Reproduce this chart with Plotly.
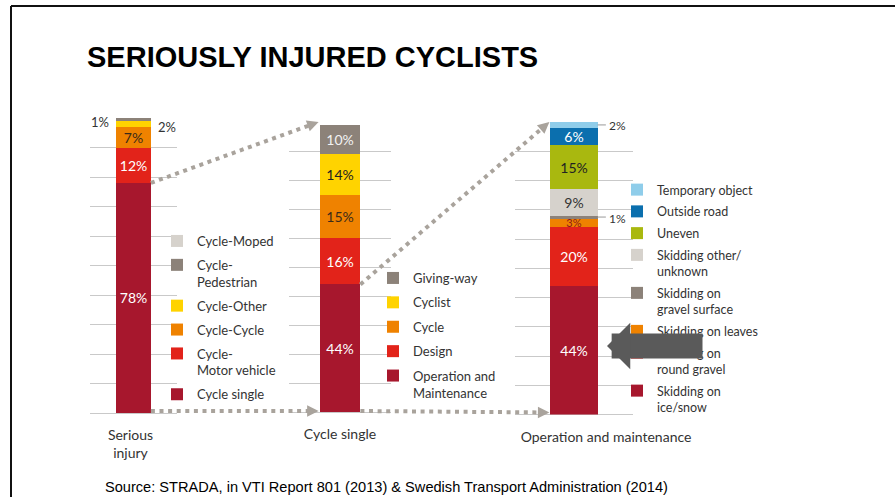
import plotly.graph_objects as go
import math

W, H = 895, 497

# ---------------- data ----------------
cat1 = ["Serious<br>injury"]
names1 = ["Cycle single", "Cycle-<br>Motor vehicle", "Cycle-Cycle", "Cycle-Other",
          "Cycle-<br>Pedestrian", "Cycle-Moped"]
vals1 = [78, 12, 7, 2, 1, 1]

cat2 = ["Cycle single"]
names2 = ["Operation and<br>Maintenance", "Design", "Cycle", "Cyclist", "Giving-way"]
vals2 = [44, 16, 15, 14, 10]

cat3 = ["Operation and maintenance"]
names3 = ["Skidding on<br>ice/snow", "Skidding on<br>round gravel", "Skidding on leaves",
          "Skidding on<br>gravel surface", "Skidding other/<br>unknown", "Uneven",
          "Outside road", "Temporary object"]
vals3 = [44, 20, 3, 1, 9, 15, 6, 2]

# ---------------- styles ----------------
DRED, RED, ORG, YEL = "#A7172D", "#E2231A", "#EF8200", "#FFD300"
DGRY, LGRY, OLIVE, BLUE, LBLUE = "#8C8279", "#D6D2CC", "#A9B80F", "#0B6FAE", "#8FCDEA"
cols1 = [DRED, RED, ORG, YEL, DGRY, LGRY]
cols2 = [DRED, RED, ORG, YEL, DGRY]
cols3 = [DRED, RED, ORG, DGRY, LGRY, OLIVE, BLUE, LBLUE]
tc1 = ["white", "white", "#3b2a1a", "#333", "white", "#333"]
tc2 = ["white", "white", "#3b2a1a", "#222", "#f2f2f2"]
tc3 = ["white", "white", "#8B1A1A", "white", "#333", "#222", "white", "#333"]

GRID = "#C9C9C9"
DOT = "#A9A39C"
TXT = "#333333"
FONT = "Lato"

XDOM = [(90, 177), (289, 391), (515, 633)]
YDOM = [(413, 118), (412, 122), (414.5, 122)]
BARW = 0.4


def xdom(i):
    return [XDOM[i][0] / W, XDOM[i][1] / W]


def ydom(i):
    return [1 - YDOM[i][0] / H, 1 - YDOM[i][1] / H]


def xpix(i, xv):
    a, b = XDOM[i]
    return a + (xv + 0.5) * (b - a)


def ypix(i, yv):
    b, t = YDOM[i]
    return b - yv / 100 * (b - t)


def pp(px, py):
    return px / W, 1 - py / H


fig = go.Figure()
groups = [(cat1, names1, vals1, cols1, tc1, "legend"),
          (cat2, names2, vals2, cols2, tc2, "legend2"),
          (cat3, names3, vals3, cols3, tc3, "legend3")]
for gi, (cat, names, vals, cols, tcs, leg) in enumerate(groups):
    xa = "x" if gi == 0 else f"x{gi + 1}"
    ya = "y" if gi == 0 else f"y{gi + 1}"
    n_items = len(names)
    for k, (n, v, c, tc) in enumerate(zip(names, vals, cols, tcs)):
        fig.add_trace(go.Bar(
            x=cat, y=[v], name=n, width=BARW,
            marker=dict(color=c, line=dict(width=0)),
            text=[f"{v}%" if v >= 3 else ""], textposition="inside",
            insidetextanchor="middle", textangle=0, constraintext="none",
            textfont=dict(family=FONT, size=14 if v > 3 else 11, color=tc),
            xaxis=xa, yaxis=ya, legend=leg, legendgroup=f"{leg}-{k}",
            legendrank=100 + n_items - k,
            cliponaxis=False, hoverinfo="skip"))

layout = dict(
    width=W, height=H, autosize=False,
    margin=dict(l=0, r=0, t=0, b=0, pad=0, autoexpand=False),
    paper_bgcolor="white", plot_bgcolor="white",
    barmode="stack", showlegend=True,
    font=dict(family=FONT, color=TXT),
)
shifts = [-3, 0, 32]
for i in range(3):
    sx = "" if i == 0 else str(i + 1)
    layout[f"xaxis{sx}"] = dict(
        domain=xdom(i), anchor=f"y{sx}", type="category", range=[-0.5, 0.5],
        showgrid=False, zeroline=False, showline=False, ticks="", automargin=False,
        tickfont=dict(family=FONT, size=14, color=TXT),
        ticklabelshift=shifts[i], ticklabelstandoff=12)
    layout[f"yaxis{sx}"] = dict(
        domain=ydom(i), anchor=f"x{sx}", range=[0, 100], dtick=10, tick0=0,
        showgrid=True, gridcolor=GRID, gridwidth=1, automargin=False,
        zeroline=True, zerolinecolor=GRID, zerolinewidth=1,
        showticklabels=False, ticks="")

leg_common = dict(xanchor="left", yanchor="top", bgcolor="rgba(0,0,0,0)",
                  traceorder="grouped", valign="top", itemclick=False,
                  itemdoubleclick=False)
layout["legend"] = dict(x=157 / W, y=1 - 226 / H, tracegroupgap=4,
                        font=dict(family=FONT, size=13, color=TXT), **leg_common)
layout["legend2"] = dict(x=373 / W, y=1 - 263 / H, tracegroupgap=4.5,
                         font=dict(family=FONT, size=13, color=TXT), **leg_common)
layout["legend3"] = dict(x=617 / W, y=1 - 175 / H, tracegroupgap=2.5,
                         font=dict(family=FONT, size=12.5, color=TXT), **leg_common)

fig.update_layout(**layout)

shapes = []
annots = []

# slide border
shapes.append(dict(type="line", xref="paper", yref="paper", x0=pp(11, 6)[0], y0=pp(11, 6)[1],
                   x1=1, y1=pp(11, 6)[1], line=dict(color="#111", width=2)))
shapes.append(dict(type="line", xref="paper", yref="paper", x0=pp(11, 6)[0], y0=pp(11, 6)[1],
                   x1=pp(11, 6)[0], y1=0, line=dict(color="#111", width=2)))

# title + source
tx, ty = pp(85, 57)
annots.append(dict(text="<b>SERIOUSLY INJURED CYCLISTS</b>", x=tx, y=ty, xref="paper", yref="paper",
                   xanchor="left", yanchor="middle", showarrow=False,
                   font=dict(family="Liberation Sans", size=29, color="black")))
sx_, sy_ = pp(103, 487)
annots.append(dict(text="Source: STRADA, in VTI Report 801 (2013) &amp; Swedish Transport Administration (2014)",
                   x=sx_, y=sy_, xref="paper", yref="paper", xanchor="left", yanchor="middle",
                   showarrow=False, font=dict(family="Liberation Sans", size=14.6, color="black")))


def cum_mid(vals, k):
    return sum(vals[:k]) + vals[k] / 2


# small outside labels, bar 1
lab_font = dict(family=FONT, size=13, color=TXT)
annots.append(dict(text=f"{vals1[4]}%", x=-0.38, y=cum_mid(vals1, 4), yshift=-3, xref="x", yref="y",
                   showarrow=False, font=lab_font))
annots.append(dict(text=f"{vals1[5]}%", x=0.36, y=cum_mid(vals1, 5), yshift=2, xref="x", yref="y",
                   showarrow=False, font=lab_font))
annots.append(dict(text=f"{vals1[3]}%", x=0.38, y=cum_mid(vals1, 3), yshift=-3, xref="x", yref="y",
                   showarrow=False, font=lab_font))

# small outside labels, bar 3 with leader lines
for k in (7, 3):
    ym = cum_mid(vals3, k)
    shapes.append(dict(type="line", xref="x3", yref="y3", x0=BARW / 2, x1=0.27, y0=ym, y1=ym,
                       line=dict(color="#999", width=1)))
    annots.append(dict(text=f"{vals3[k]}%", x=0.28, y=ym, xref="x3", yref="y3", xanchor="left",
                       yshift=-1, showarrow=False, font=dict(family=FONT, size=12, color=TXT)))


# dotted connectors
def connector(p0, p1):
    (x0, y0), (x1, y1) = p0, p1
    L = math.hypot(x1 - x0, y1 - y0)
    ux, uy = (x1 - x0) / L, (y1 - y0) / L
    ex, ey = x1 - ux * 9, y1 - uy * 9
    a, b = pp(x0, y0)
    c, d = pp(ex, ey)
    shapes.append(dict(type="line", xref="paper", yref="paper", x0=a, y0=b, x1=c, y1=d,
                       layer="above", line=dict(color=DOT, width=4, dash="4px,4.6px")))
    tx_, ty_ = pp(x1, y1)
    annots.append(dict(text="", x=tx_, y=ty_, xref="paper", yref="paper", showarrow=True,
                       ax=-ux * 12, ay=-uy * 12, axref="pixel", ayref="pixel",
                       arrowhead=2, arrowsize=1.15, arrowwidth=2, arrowcolor=DOT, standoff=0))


connector((xpix(0, BARW / 2), ypix(0, vals1[0])), (xpix(1, -BARW / 2) - 1, ypix(1, 100)))
connector((xpix(1, BARW / 2), ypix(1, vals2[0])), (xpix(2, -BARW / 2) - 1, ypix(2, 100)))
connector((xpix(0, BARW / 2), ypix(0, 0) - 2), (xpix(1, -BARW / 2) - 1, ypix(0, 0) - 2))
connector((xpix(1, BARW / 2), ypix(1, 0) - 1), (xpix(2, -BARW / 2) - 1, ypix(2, 0) - 2))

# big dark arrow pointing at the 44% segment
ax_, ay_ = pp(607, 346)
annots.append(dict(text="", x=ax_, y=ay_, xref="paper", yref="paper", showarrow=True,
                   ax=97, ay=0, axref="pixel", ayref="pixel", arrowhead=1, arrowwidth=25,
                   arrowsize=0.31, arrowcolor="#5A5A5A", standoff=0))

fig.update_layout(shapes=shapes, annotations=annots)
fig.write_html(
    "out.html",
    config={"responsive": False, "displayModeBar": False},
    post_script="document.body.style.margin='0';document.body.style.overflow='hidden';",
)
